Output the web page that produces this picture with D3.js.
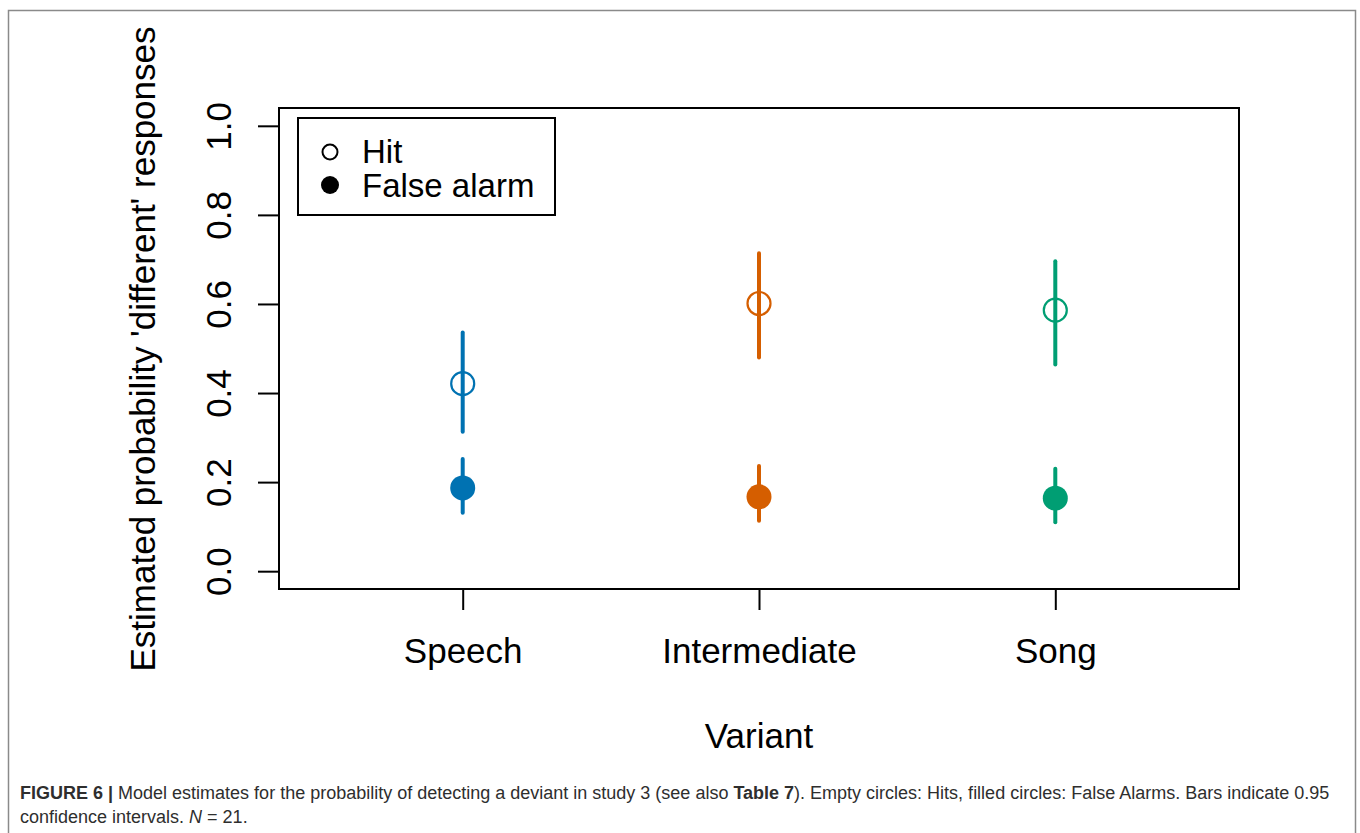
<!DOCTYPE html>
<html>
<head>
<meta charset="utf-8">
<script src="https://cdn.jsdelivr.net/npm/d3@7"></script>
<style>
  html, body { margin: 0; padding: 0; background: #fff; }
  svg { display: block; }
  text { font-family: "Liberation Sans", Arial, Helvetica, sans-serif; }
</style>
</head>
<body>
<svg id="chart" width="1360" height="833"></svg>
<script>
// Model estimates (probability of a 'different' response) with 0.95 CIs
const variants = ["Speech", "Intermediate", "Song"];
const colors = ["#0072B2", "#D55E00", "#009E73"];
const hitEst = [0.421, 0.601, 0.586];
const hitLow = [0.313, 0.480, 0.464];
const hitHigh = [0.536, 0.714, 0.696];
const faEst = [0.187, 0.167, 0.164];
const faLow = [0.131, 0.113, 0.110];
const faHigh = [0.252, 0.236, 0.230];
const yTicks = [0, 0.2, 0.4, 0.6, 0.8, 1.0];
const legendLabels = ["Hit", "False alarm"];

const svg = d3.select("#chart");

// outer figure frame
svg.append("rect")
  .attr("x", 8.5).attr("y", 10.5)
  .attr("width", 1347).attr("height", 840)
  .attr("fill", "none").attr("stroke", "#8a8a8a").attr("stroke-width", 1.5);

// scales: R-style 4% padding around [0.5, 3.5] and [0, 1]
const x = d3.scaleLinear().domain([0.38, 3.62]).range([279, 1239]);
const y = d3.scaleLinear().domain([-0.04, 1.04]).range([589, 108]);

// y axis
const yAxis = d3.axisLeft(y).tickValues(yTicks).tickSize(21).tickPadding(27)
  .tickFormat(d3.format(".1f"));
const gy = svg.append("g").attr("transform", `translate(${x.range()[0]},0)`).call(yAxis);
gy.select(".domain").remove();
gy.selectAll(".tick line").attr("stroke", "#000").attr("stroke-width", 2);
gy.selectAll(".tick text")
  .attr("font-size", 35).attr("fill", "#000")
  .attr("text-anchor", "middle")
  .attr("dy", null)
  .attr("x", null)
  .attr("transform", "translate(-48,0) rotate(-90)")
  .attr("y", 0);

// x axis
const xAxis = d3.axisBottom(x).tickValues([1, 2, 3]).tickSize(21).tickPadding(28)
  .tickFormat(i => variants[i - 1]);
const gx = svg.append("g").attr("transform", `translate(0,${y.range()[0]})`).call(xAxis);
gx.select(".domain").remove();
gx.selectAll(".tick line").attr("stroke", "#000").attr("stroke-width", 2);
gx.selectAll(".tick text").attr("font-size", 35).attr("fill", "#000").attr("dy", "0.71em");

// plot box
svg.append("rect")
  .attr("x", x.range()[0]).attr("y", y.range()[1])
  .attr("width", x.range()[1] - x.range()[0])
  .attr("height", y.range()[0] - y.range()[1])
  .attr("fill", "none").attr("stroke", "#000").attr("stroke-width", 2);

// axis titles
svg.append("text")
  .attr("transform", "translate(155,349) rotate(-90)")
  .attr("text-anchor", "middle").attr("font-size", 35).attr("fill", "#000")
  .text("Estimated probability 'different' responses");
svg.append("text")
  .attr("x", 759).attr("y", 748)
  .attr("text-anchor", "middle").attr("font-size", 35).attr("fill", "#000")
  .text("Variant");

// confidence interval bars
const idx = d3.range(variants.length);
const bars = svg.append("g").attr("stroke-width", 4).attr("stroke-linecap", "round");
bars.selectAll("line.hit").data(idx).join("line")
  .attr("class", "hit")
  .attr("x1", i => x(i + 1)).attr("x2", i => x(i + 1))
  .attr("y1", i => y(hitLow[i])).attr("y2", i => y(hitHigh[i]))
  .attr("stroke", i => colors[i]);
bars.selectAll("line.fa").data(idx).join("line")
  .attr("class", "fa")
  .attr("x1", i => x(i + 1)).attr("x2", i => x(i + 1))
  .attr("y1", i => y(faLow[i])).attr("y2", i => y(faHigh[i]))
  .attr("stroke", i => colors[i]);

// point estimates: open = hits, filled = false alarms
svg.append("g").selectAll("circle").data(idx).join("circle")
  .attr("cx", i => x(i + 1)).attr("cy", i => y(hitEst[i])).attr("r", 11.5)
  .attr("fill", "none").attr("stroke", i => colors[i]).attr("stroke-width", 2.2);
svg.append("g").selectAll("circle").data(idx).join("circle")
  .attr("cx", i => x(i + 1)).attr("cy", i => y(faEst[i])).attr("r", 12.5)
  .attr("fill", i => colors[i]);

// legend
const lg = svg.append("g");
lg.append("rect").attr("x", 298).attr("y", 118).attr("width", 257).attr("height", 97)
  .attr("fill", "#fff").attr("stroke", "#000").attr("stroke-width", 2);
lg.append("circle").attr("cx", 330).attr("cy", 152).attr("r", 7.5)
  .attr("fill", "none").attr("stroke", "#000").attr("stroke-width", 2);
lg.append("circle").attr("cx", 330).attr("cy", 185).attr("r", 9).attr("fill", "#000");
lg.selectAll("text").data(legendLabels).join("text")
  .attr("x", 362).attr("y", (d, i) => 163 + i * 34)
  .attr("font-size", 33).attr("fill", "#000")
  .text(d => d);

// caption
const cap = svg.append("g").attr("font-size", 18).attr("fill", "#2e2e2e");
const l1 = cap.append("text").attr("x", 20).attr("y", 799);
l1.append("tspan").attr("font-weight", "bold").text("FIGURE 6 |");
l1.append("tspan").text(" Model estimates for the probability of detecting a deviant in study 3 (see also ");
l1.append("tspan").attr("font-weight", "bold").text("Table 7");
l1.append("tspan").text("). Empty circles: Hits, filled circles: False Alarms. Bars indicate 0.95");
const l2 = cap.append("text").attr("x", 20).attr("y", 823);
l2.append("tspan").text("confidence intervals. ");
l2.append("tspan").attr("font-style", "italic").text("N");
l2.append("tspan").text(" = 21.");
</script>
</body>
</html>
